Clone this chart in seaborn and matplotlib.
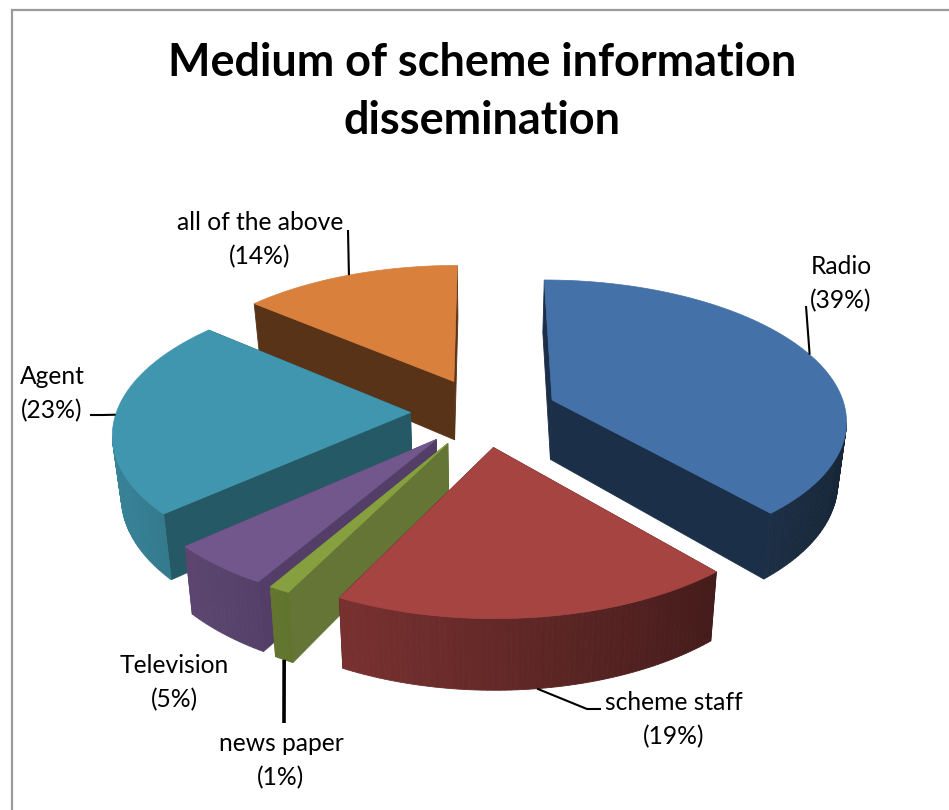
import numpy as np
import matplotlib
matplotlib.use("Agg")
import matplotlib.pyplot as plt
import seaborn as sns

# Survey shares, clockwise from twelve o'clock
categories = ["Radio", "scheme staff", "news paper", "Television", "Agent", "all of the above"]
shares = [39, 19, 1, 5, 23, 14]

top_colors = ["#4471a7", "#a64442", "#86a03f", "#72578c", "#4096ae", "#d9803c"]
face_colors = ["#1b2f48", "#451b18", "#647536", "#523e66", "#265966", "#593318"]

# Label centres and leader elbows in canvas pixels
label_xy = [(841, 284), (674, 720), (281, 761), (174, 683), (52, 394), (260, 240)]
leader_ends = [[(806, 306)], [(587, 709), (601, 709)], [(284, 723)], [], [(103, 415), (90, 415)], [(348, 230)]]
leader_on_floor = [False, True, True, False, False, False]
leader_width = [1.5, 1.5, 2.6, 1.5, 1.5, 1.5]

# Projection of the tilted pie
CX, CY = 484.0, 412.0
SCALE_X, SCALE_Y = 294.0, 138.6
PERSPECTIVE = 0.1304
THICKNESS = 60.0
EXPLODE = 0.25


def project(u, v, drop=0.0):
    w = 1.0 / (1.0 - PERSPECTIVE * np.asarray(v))
    return np.column_stack([CX + SCALE_X * np.asarray(u) * w * (1 - 0.0004 * drop),
                            CY + SCALE_Y * np.asarray(v) * w + drop * w])


def shade(color, factor):
    rgb = np.array(matplotlib.colors.to_rgb(color)) * factor
    return tuple(np.clip(rgb, 0, 1))


def wall_faces_viewer(angle, u, v):
    # The viewer sits on the v axis at the perspective's vanishing distance
    return np.sin(angle) * (-u) + (-np.cos(angle)) * (1.0 / PERSPECTIVE - v) > 0


sns.set_theme(style="white")
plt.rcParams["font.family"] = ["Lato", "DejaVu Sans"]

fig = plt.figure(figsize=(9.49, 8.10), dpi=100, facecolor="white")
ax = fig.add_axes([0, 0, 1, 1])
ax.set_xlim(0, 949)
ax.set_ylim(810, 0)
ax.axis("off")

palette = sns.color_palette(top_colors)

# Chart area border: only the top and left edges fall inside the canvas
ax.plot([12, 12, 949], [810, 10, 10], color="#9a9a9a", lw=1.6, solid_joinstyle="miter", zorder=1)

fractions = np.array(shares, dtype=float) / sum(shares)
bounds = np.concatenate([[0.0], np.cumsum(fractions)]) * 2 * np.pi

slices = []
for i in range(len(shares)):
    mid = (bounds[i] + bounds[i + 1]) / 2
    du, dv = EXPLODE * np.sin(mid), -EXPLODE * np.cos(mid)
    slices.append(dict(i=i, t0=bounds[i], t1=bounds[i + 1], mid=mid, du=du, dv=dv))

z = 2.0
for s in sorted(slices, key=lambda item: -np.cos(item["mid"])):
    i = s["i"]
    theta = np.linspace(s["t0"], s["t1"], max(int((s["t1"] - s["t0"]) * 60), 6))
    rim_u, rim_v = s["du"] + np.sin(theta), s["dv"] - np.cos(theta)
    top_rim = project(rim_u, rim_v)
    low_rim = project(rim_u, rim_v, THICKNESS)
    apex_top = project([s["du"]], [s["dv"]])
    apex_low = project([s["du"]], [s["dv"]], THICKNESS)

    # Cut faces: the rear one first so the nearer one covers it
    ends = [0, -1]
    ends.sort(key=lambda k: rim_v[k])
    for k in ends:
        face = np.vstack([apex_top, top_rim[k], low_rim[k], apex_low])
        ax.fill(face[:, 0], face[:, 1], color=face_colors[i], lw=0.6, zorder=z)
        z += 0.01

    # Curved outer wall, lit from the left; segments turned away stay undrawn
    for a in range(len(theta) - 1):
        angle = (theta[a] + theta[a + 1]) / 2
        if not wall_faces_viewer(angle, s["du"] + np.sin(angle), s["dv"] - np.cos(angle)):
            continue
        quad = np.vstack([top_rim[a], top_rim[a + 1], low_rim[a + 1], low_rim[a]])
        factor = np.clip(0.6 - 0.28 * np.sin(angle), 0.3, 0.9)
        ax.fill(quad[:, 0], quad[:, 1], color=shade(palette[i], factor), lw=0.6, zorder=z)
        z += 0.001

    # Upper surface
    top = np.vstack([apex_top, top_rim])
    ax.fill(top[:, 0], top[:, 1], color=palette[i], lw=0.5, zorder=z + 0.01)
    z += 0.1

    s["anchor"] = project([s["du"] + np.sin(s["mid"])], [s["dv"] - np.cos(s["mid"])],
                          THICKNESS if leader_on_floor[i] else 0.0)[0]

# Leader lines run from the rim at each slice's mid-angle towards its label
for s in slices:
    i = s["i"]
    if leader_ends[i]:
        path = np.vstack([s["anchor"], np.array(leader_ends[i])])
        ax.plot(path[:, 0], path[:, 1], color="black", lw=leader_width[i],
                solid_capstyle="butt", zorder=z + 1)
    ax.text(label_xy[i][0], label_xy[i][1], f"{categories[i]}\n({shares[i]}%)",
            ha="center", va="center", fontsize=17.7, color="black", linespacing=1.58, zorder=z + 2)

ax.text(482, 92, "Medium of scheme information\ndissemination", ha="center", va="center",
        fontsize=32.4, fontweight="bold", color="black", linespacing=1.5)

fig.savefig("out.png", dpi=100, facecolor="white")
